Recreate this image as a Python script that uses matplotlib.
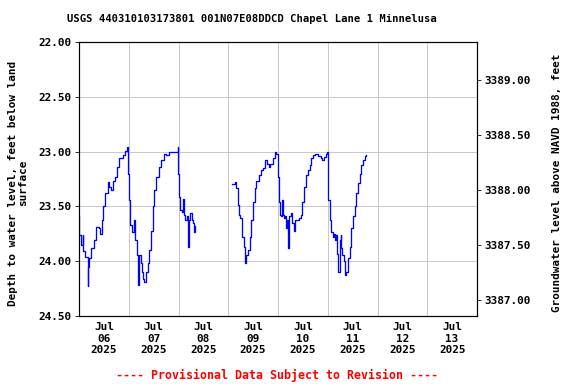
import numpy as np
import pandas as pd
import matplotlib
matplotlib.use('Agg')
import matplotlib.pyplot as plt
import matplotlib.dates as mdates

plt.rcParams['font.family'] = 'DejaVu Sans Mono'
plt.rcParams['font.weight'] = 'bold'

# Data: hours since 2025-07-06 00:00 and depth to water (ft below land surface)
start = pd.Timestamp('2025-07-06 00:00')
hours_1 = [0.0, 0.1, 1.0, 1.8, 2.1, 3.0, 4.2, 4.5, 5.0, 5.8, 7.4, 8.2, 9.5, 10.1, 11.1, 11.7,
           12.7, 13.8, 14.6, 15.4, 16.3, 17.4, 18.2, 19.4, 21.1, 22.3, 23.2, 23.5, 24.3, 24.7,
           25.6, 26.7, 27.2, 28.0, 28.5, 29.1, 29.9, 30.4, 31.0, 31.5, 32.3, 33.1, 33.9, 34.7,
           35.6, 36.3, 37.1, 38.4, 39.6, 41.2, 42.0, 43.6, 45.2, 47.6, 47.8, 48.2, 48.7, 49.7,
           50.3, 50.7, 51.3, 52.0, 52.4, 52.9, 53.7, 54.4, 54.9, 55.3, 55.8]
depth_1 = [23.59, 23.76, 23.85, 23.76, 23.91, 23.96, 24.23, 24.05, 23.97, 23.88, 23.81, 23.69,
           23.70, 23.75, 23.62, 23.50, 23.38, 23.28, 23.32, 23.35, 23.27, 23.23, 23.14, 23.06,
           23.03, 22.99, 22.96, 23.20, 23.44, 23.67, 23.73, 23.62, 23.81, 23.94, 24.22, 23.94,
           24.02, 24.10, 24.16, 24.19, 24.10, 24.02, 23.90, 23.72, 23.50, 23.35, 23.23, 23.14,
           23.08, 23.02, 23.03, 23.00, 23.00, 22.96, 23.20, 23.41, 23.53, 23.55, 23.43, 23.58,
           23.62, 23.59, 23.87, 23.62, 23.56, 23.62, 23.65, 23.73, 23.68]
hours_2 = [73.8, 74.8, 75.4, 75.9, 76.7, 77.2, 77.8, 78.6, 79.5, 79.9, 80.7, 81.5, 82.3, 83.1,
           83.9, 84.8, 85.5, 86.7, 87.9, 88.8, 89.6, 90.8, 91.5, 92.0, 92.8, 93.6, 94.4, 95.2,
           95.7, 96.0, 96.3, 96.8, 97.3, 97.9, 98.4, 98.9, 99.5, 100.0, 100.5, 100.8, 101.4,
           102.1, 102.7, 103.6, 104.3, 105.3, 106.3, 106.9, 107.7, 108.5, 109.6, 110.5, 111.3,
           112.1, 112.9, 114.0, 115.3, 116.6, 117.2, 118.2, 119.3, 119.8, 120.1, 120.9, 121.7,
           122.5, 123.0, 123.6, 124.1, 124.6, 124.9, 125.8, 126.2, 126.5, 127.0, 127.7, 128.2,
           128.9, 129.8, 130.6, 131.4, 132.2, 133.0, 133.8, 134.6, 135.4, 136.2, 137.0, 137.8,
           138.6]
depth_2 = [23.30, 23.30, 23.28, 23.33, 23.49, 23.58, 23.61, 23.78, 23.87, 24.02, 23.94, 23.90,
           23.78, 23.62, 23.46, 23.33, 23.27, 23.21, 23.17, 23.15, 23.08, 23.11, 23.14, 23.11,
           23.11, 23.06, 23.00, 23.02, 23.02, 23.23, 23.46, 23.58, 23.59, 23.44, 23.58, 23.61,
           23.59, 23.70, 23.62, 23.88, 23.59, 23.56, 23.65, 23.72, 23.62, 23.62, 23.61, 23.58,
           23.46, 23.32, 23.21, 23.17, 23.12, 23.06, 23.03, 23.02, 23.04, 23.06, 23.08, 23.05,
           23.02, 23.00, 23.44, 23.62, 23.73, 23.78, 23.75, 23.81, 23.76, 23.93, 24.10, 23.81,
           23.76, 23.88, 23.94, 24.00, 24.13, 24.10, 23.97, 23.87, 23.70, 23.59, 23.50, 23.38,
           23.29, 23.20, 23.12, 23.08, 23.04, 23.03]
datum_offset = 3411.35  # elevation = offset - depth

title = 'USGS 440310103173801 001N07E08DDCD Chapel Lane 1 Minnelusa'
left_label = 'Depth to water level, feet below land\nsurface'
right_label = 'Groundwater level above NAVD 1988, feet'

fig = plt.figure(figsize=(8, 384 / 72), dpi=72)
ax = fig.add_axes([79 / 576, 1 - 316 / 384, 398 / 576, 274 / 384])

for hrs, dep in [(hours_1, depth_1), (hours_2, depth_2)]:
    t = start + pd.to_timedelta(hrs, unit='h')
    ax.plot(t, dep, color='#0000ff', lw=1.3, drawstyle='steps-post')

ax.set_xlim(start, start + pd.Timedelta(days=8))
ax.set_ylim(24.5, 22.0)
ax.set_yticks(np.arange(22.0, 24.51, 0.5))
ax.yaxis.set_major_formatter(plt.FormatStrFormatter('%.2f'))

ax.xaxis.set_major_locator(mdates.DayLocator())
ax.xaxis.set_major_formatter(plt.NullFormatter())
ax.xaxis.set_minor_locator(mdates.HourLocator(byhour=[12]))
ax.xaxis.set_minor_formatter(mdates.DateFormatter('%b\n%d\n%Y'))
ax.tick_params(axis='x', which='both', length=0, labelsize=11, pad=6)
ax.tick_params(axis='y', labelsize=11, length=4)
ax.grid(True, color='#c8c8c8', lw=1)
for s in ax.spines.values():
    s.set_linewidth(1.2)

ax2 = ax.twinx()
ax2.set_ylim(datum_offset - 24.5, datum_offset - 22.0)
ax2.set_yticks(np.arange(3387.0, 3389.01, 0.5))
ax2.yaxis.set_major_formatter(plt.FormatStrFormatter('%.2f'))
ax2.tick_params(axis='y', labelsize=11, length=4)

fig.text(252 / 576, 1 - 19 / 384, title, fontsize=10.5, fontweight='bold',
         ha='center', va='center')
fig.text(18 / 576, 1 - 183 / 384, left_label, fontsize=11,
         rotation=90, ha='center', va='center', multialignment='center', linespacing=1.0)
fig.text(557 / 576, 1 - 183 / 384, right_label, fontsize=11,
         rotation=90, ha='center', va='center')
fig.text(277 / 576, 1 - 375 / 384, '---- Provisional Data Subject to Revision ----',
         color='red', fontsize=11.6, fontweight='bold', ha='center', va='center')

fig.savefig('out.png', dpi=72)
